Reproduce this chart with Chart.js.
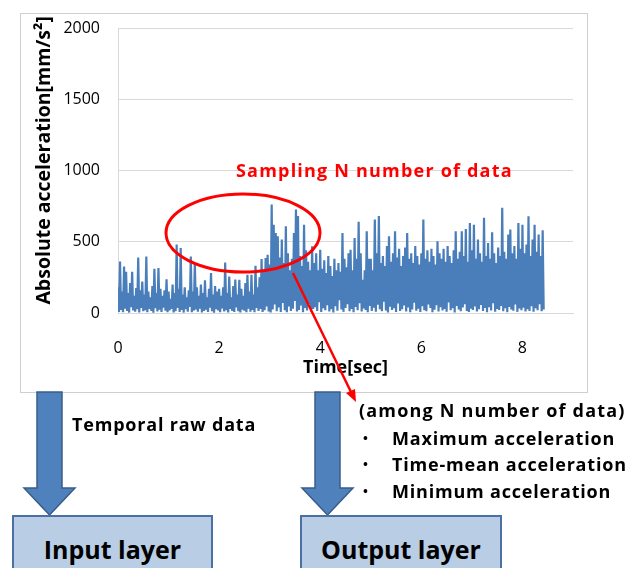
<!DOCTYPE html>
<html>
<head>
<meta charset="utf-8">
<script src="https://cdn.jsdelivr.net/npm/chart.js@4/dist/chart.umd.min.js"></script>
<style>
  html, body { margin: 0; padding: 0; background: #fff; }
  #stage { position: relative; width: 642px; height: 568px; overflow: hidden; font-family: "Open Sans", sans-serif; }
  .frame { position: absolute; left: 20px; top: 13px; width: 566px; height: 378px; border: 1px solid #cfcfcf; background: #fff; }
  #chart { position: absolute; left: 0; top: 0; }
  svg { position: absolute; left: 0; top: 0; }
  .txt { position: absolute; font-weight: 700; white-space: nowrap; transform: translateY(-50%); line-height: 1; color: #000;
         font-size: 18px; letter-spacing: 0.8px; }
  .layer { position: absolute; top: 515px; height: 60px; background: #b9cde5; border: 2px solid #4a71a3; box-sizing: border-box;
           font-weight: 700; font-size: 25px; text-align: center; line-height: 64px; color: #000; }
</style>
</head>
<body>
<div id="stage">
  <div class="frame"></div>
  <canvas id="chart" width="642" height="568"></canvas>
  <svg width="642" height="568">
    <ellipse cx="243" cy="233" rx="77" ry="39" fill="none" stroke="#ff0000" stroke-width="3"/>
    <line x1="293" y1="273" x2="351" y2="392" stroke="#ff0000" stroke-width="2.5"/>
    <polygon points="356,402 346,393 355,389" fill="#ff0000"/>
    <polygon points="37,392 62,392 62,488 75,488 49.5,515 24,488 37,488" fill="#4f81bd" stroke="#385d8a" stroke-width="1.5"/>
    <polygon points="315,392 340,392 340,488 353,488 327.5,515 302,488 315,488" fill="#4f81bd" stroke="#385d8a" stroke-width="1.5"/>
  </svg>
  <div class="txt" style="left:236px;top:170px;color:#ff0000;letter-spacing:1.2px">Sampling N number of data</div>
  <div class="txt" style="left:72px;top:424px">Temporal raw data</div>
  <div class="txt" style="left:359px;top:410px;letter-spacing:1.2px">(among N number of data)</div>
  <div class="txt" style="left:363px;top:438px;font-size:13px">•</div>
  <div class="txt" style="left:363px;top:464px;font-size:13px">•</div>
  <div class="txt" style="left:363px;top:491px;font-size:13px">•</div>
  <div class="txt" style="left:392px;top:438px">Maximum acceleration</div>
  <div class="txt" style="left:392px;top:464px">Time-mean acceleration</div>
  <div class="txt" style="left:392px;top:491px">Minimum acceleration</div>
  <div class="layer" style="left:12px;width:201px">Input layer</div>
  <div class="layer" style="left:300px;width:202px">Output layer</div>
</div>
<script>
// raw accelerometer record, 50 Hz: each pair is one local peak and the dip after it
const sampleInterval = 0.02; // sec

const peakValues = [
  180, 362, 150, 327, 290, 140, 210, 290, 120, 175, 390, 160, 220, 130, 397, 150, 110, 190, 310, 140, 315, 170, 120, 160, 237,
  150, 100, 200, 140, 480, 170, 456, 130, 180, 110, 160, 397, 150, 350, 180, 120, 200, 140, 230, 110, 170, 280, 130, 190, 150,
  170, 120, 180, 355, 140, 256, 110, 190, 235, 130, 233, 170, 120, 210, 268, 150, 268, 130, 331, 180, 250, 378, 290, 385, 409,
  340, 761, 620, 562, 538, 390, 515, 350, 609, 420, 300, 380, 562, 726, 680, 400, 330, 620, 440, 360, 300, 468, 350, 420, 300,
  444, 310, 370, 280, 400, 330, 260, 380, 300, 350, 290, 562, 380, 320, 420, 444, 300, 526, 380, 640, 420, 233, 300, 573, 380,
  380, 300, 656, 420, 680, 350, 400, 330, 470, 538, 360, 420, 573, 390, 450, 330, 400, 460, 562, 380, 420, 350, 470, 400, 340,
  420, 656, 380, 440, 360, 450, 400, 340, 503, 420, 380, 450, 360, 470, 400, 350, 440, 573, 380, 430, 573, 400, 590, 360, 632,
  440, 620, 380, 515, 420, 360, 668, 400, 491, 380, 566, 420, 350, 460, 400, 738, 430, 380, 550, 585, 420, 470, 380, 632, 450,
  620, 420, 480, 679, 400, 515, 620, 430, 550, 400, 580
];

const troughValues = [
  8, 22, 5, 30, 14, 3, 40, 18, 9, 26, 4, 35, 12, 20, 6, 28, 15, 2, 33, 11, 24, 7, 38, 16, 5,
  19, 29, 4, 13, 36, 8, 21, 3, 27, 10, 42, 6, 17, 25, 9, 31, 4, 14, 23, 7, 37, 12, 2, 26, 18,
  6, 33, 10, 20, 4, 29, 15, 8, 39, 12, 3, 24, 17, 6, 31, 9, 22, 5, 35, 14, 28, 7, 19, 45, 11,
  4, 25, 60, 12, 38, 8, 70, 20, 5, 45, 15, 30, 85, 10, 22, 52, 6, 35, 18, 64, 9, 28, 40, 14, 75,
  7, 33, 20, 55, 11, 26, 4, 48, 16, 90, 24, 8, 36, 62, 13, 29, 5, 42, 19, 68, 10, 31, 22, 6, 50,
  15, 37, 9, 58, 26, 12, 80, 18, 3, 44, 21, 34, 7, 66, 14, 27, 52, 10, 39, 5, 25, 72, 16, 30, 8,
  47, 20, 13, 60, 35, 6, 23, 55, 11, 41, 17, 28, 9, 74, 19, 33, 4, 49, 24, 12, 38, 62, 15, 7, 30,
  21, 45, 10, 26, 57, 14, 36, 5, 40, 18, 68, 9, 29, 22, 50, 12, 34, 6, 43, 25, 16, 59, 8, 31, 20,
  37, 11, 27, 14, 48, 9, 33, 19, 61, 12, 24
];

const yTicks = [0, 500, 1000, 1500, 2000];
const xTicks = [0, 2, 4, 6, 8];

const points = [];
peakValues.forEach((p, k) => {
  points.push({ x: 2 * k * sampleInterval, y: p });
  points.push({ x: (2 * k + 1) * sampleInterval, y: troughValues[k] });
});

const FONT = '"Open Sans", sans-serif';

new Chart(document.getElementById('chart'), {
  type: 'line',
  data: {
    datasets: [{
      data: points,
      borderColor: '#4a7ebb',
      borderWidth: 2.2,
      pointRadius: 0,
      tension: 0,
      fill: false,
    }],
  },
  options: {
    responsive: false,
    animation: false,
    devicePixelRatio: 1,
    layout: { padding: { left: 20, top: 28, right: 69, bottom: 176 } },
    plugins: { legend: { display: false }, tooltip: { enabled: false } },
    scales: {
      x: {
        type: 'linear', min: 0, max: 9,
        afterBuildTicks: s => { s.ticks = xTicks.map(v => ({ value: v })); },
        afterFit: s => { s.height = 79; },
        grid: { display: false },
        border: { display: true, color: '#d9d9d9' },
        ticks: { padding: 18, maxRotation: 0, color: '#000', font: { family: FONT, size: 16 }, callback: v => String(v) },
        title: { display: true, text: 'Time[sec]', color: '#000', font: { family: FONT, size: 18, weight: 'bold' }, padding: { top: 0, bottom: 13 } },
      },
      y: {
        min: 0, max: 2000,
        afterBuildTicks: s => { s.ticks = yTicks.map(v => ({ value: v })); },
        afterFit: s => { s.width = 98; },
        grid: { color: '#d9d9d9', drawTicks: false },
        border: { display: true, color: '#d9d9d9' },
        ticks: { padding: 18, color: '#000', font: { family: FONT, size: 16 }, callback: v => String(v) },
        // leading spaces nudge the rotated title up a little
        title: { display: true, text: '    Absolute acceleration[mm/s²]', color: '#000', font: { family: FONT, size: 19.5, weight: 'bold' }, padding: { top: 13, bottom: 0 } },
      },
    },
  },
});
</script>
</body>
</html>
